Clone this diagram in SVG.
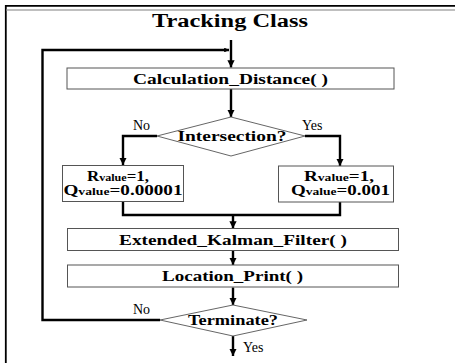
<svg xmlns="http://www.w3.org/2000/svg" width="455" height="363" viewBox="0 0 455 363">
  <style>
    .frame { fill: none; stroke: #000; stroke-width: 1.8; }
    .rule { stroke: #aaa; stroke-width: 1.3; }
    .box { fill: #fff; stroke: #555; stroke-width: 1; }
    .dia { fill: #fff; stroke: #666; stroke-width: 1; }
    .lbl { font-family: "Liberation Serif", "Times New Roman", serif; font-weight: bold; font-size: 14px; fill: #000; }
    .par { font-family: "Liberation Serif", "Times New Roman", serif; font-weight: bold; font-size: 14px; fill: #000; }
    .title { font-family: "Liberation Serif", "Times New Roman", serif; font-weight: bold; font-size: 18px; fill: #000; }
    .ans { font-family: "Liberation Serif", "Times New Roman", serif; font-size: 14px; fill: #000; }
    .sub { font-size: 10px; }
    .wire { fill: none; stroke: #000; stroke-width: 2.4; }
  </style>
  <defs>
    <marker id="arrow" viewBox="0 0 10 10" refX="10" refY="5" markerWidth="3" markerHeight="3" markerUnits="strokeWidth" orient="auto">
      <path d="M0,0 L10,5 L0,10 Z" fill="#000"/>
    </marker>
    <marker id="arrowSmall" viewBox="0 0 10 10" refX="10" refY="5" markerWidth="2.4" markerHeight="2" markerUnits="strokeWidth" orient="auto">
      <path d="M0,0 L10,5 L0,10 Z" fill="#000"/>
    </marker>
  </defs>

  <!-- page frame -->
  <rect width="455" height="363" fill="#fff"/>
  <path class="frame" d="M5.8,363 V5.8 H455"/>
  <line class="rule" x1="6.5" y1="10" x2="455" y2="10"/>

  <text class="title" x="230" y="26.5" text-anchor="middle" textLength="156" lengthAdjust="spacingAndGlyphs">Tracking Class</text>

  <!-- connectors -->
  <g id="connectors">
    <line class="wire" x1="231" y1="40" x2="231" y2="67.5" marker-end="url(#arrow)"/>
    <path class="wire" d="M160,320 H42.5 V50 H229" marker-end="url(#arrowSmall)"/>
    <line class="wire" x1="231" y1="89" x2="231" y2="117" marker-end="url(#arrow)"/>
    <path class="wire" d="M157,136 H123 V165" marker-end="url(#arrow)"/>
    <path class="wire" d="M305,136 H340 V166" marker-end="url(#arrow)"/>
    <path class="wire" d="M123,201 V215 H340 V201"/>
    <line class="wire" x1="233" y1="215" x2="233" y2="228.5" marker-end="url(#arrow)"/>
    <line class="wire" x1="233" y1="250.5" x2="233" y2="265" marker-end="url(#arrow)"/>
    <line class="wire" x1="233" y1="287.5" x2="233" y2="305" marker-end="url(#arrow)"/>
    <line class="wire" x1="233" y1="336" x2="233" y2="356" marker-end="url(#arrow)"/>
  </g>

  <g id="calc-distance">
    <rect class="box" x="67" y="68" width="327" height="21"/>
    <text class="lbl" x="230.5" y="83.5" text-anchor="middle" textLength="195" lengthAdjust="spacingAndGlyphs">Calculation_Distance( )</text>
  </g>

  <g id="intersection">
    <polygon class="dia" points="231,117 305,136 231,156 157,136"/>
    <text class="lbl" x="232" y="140.5" text-anchor="middle" textLength="109" lengthAdjust="spacingAndGlyphs">Intersection?</text>
    <text class="ans" x="133" y="130">No</text>
    <text class="ans" x="302" y="130">Yes</text>
  </g>

  <g id="params-no">
    <rect class="box" x="62.5" y="165.5" width="121" height="36"/>
    <text class="par" x="87" y="181" textLength="62" lengthAdjust="spacingAndGlyphs">R<tspan class="sub">value</tspan>=1,</text>
    <text class="par" x="63.5" y="195" textLength="119" lengthAdjust="spacingAndGlyphs">Q<tspan class="sub">value</tspan>=0.00001</text>
  </g>

  <g id="params-yes">
    <rect class="box" x="278.5" y="166" width="115" height="36"/>
    <text class="par" x="304" y="181" textLength="70" lengthAdjust="spacingAndGlyphs">R<tspan class="sub">value</tspan>=1,</text>
    <text class="par" x="291" y="195" textLength="99" lengthAdjust="spacingAndGlyphs">Q<tspan class="sub">value</tspan>=0.001</text>
  </g>

  <g id="ekf">
    <rect class="box" x="67.5" y="228.5" width="331" height="22"/>
    <text class="lbl" x="233" y="244.5" text-anchor="middle" textLength="228" lengthAdjust="spacingAndGlyphs">Extended_Kalman_Filter( )</text>
  </g>

  <g id="location-print">
    <rect class="box" x="67.5" y="265" width="331" height="22"/>
    <text class="lbl" x="232.5" y="280.5" text-anchor="middle" textLength="141" lengthAdjust="spacingAndGlyphs">Location_Print( )</text>
  </g>

  <g id="terminate">
    <polygon class="dia" points="233,305 307,320 233,336 160,320"/>
    <text class="lbl" x="233" y="325" text-anchor="middle" textLength="90" lengthAdjust="spacingAndGlyphs">Terminate?</text>
    <text class="ans" x="133" y="314">No</text>
    <text class="ans" x="243" y="352">Yes</text>
  </g>
</svg>
